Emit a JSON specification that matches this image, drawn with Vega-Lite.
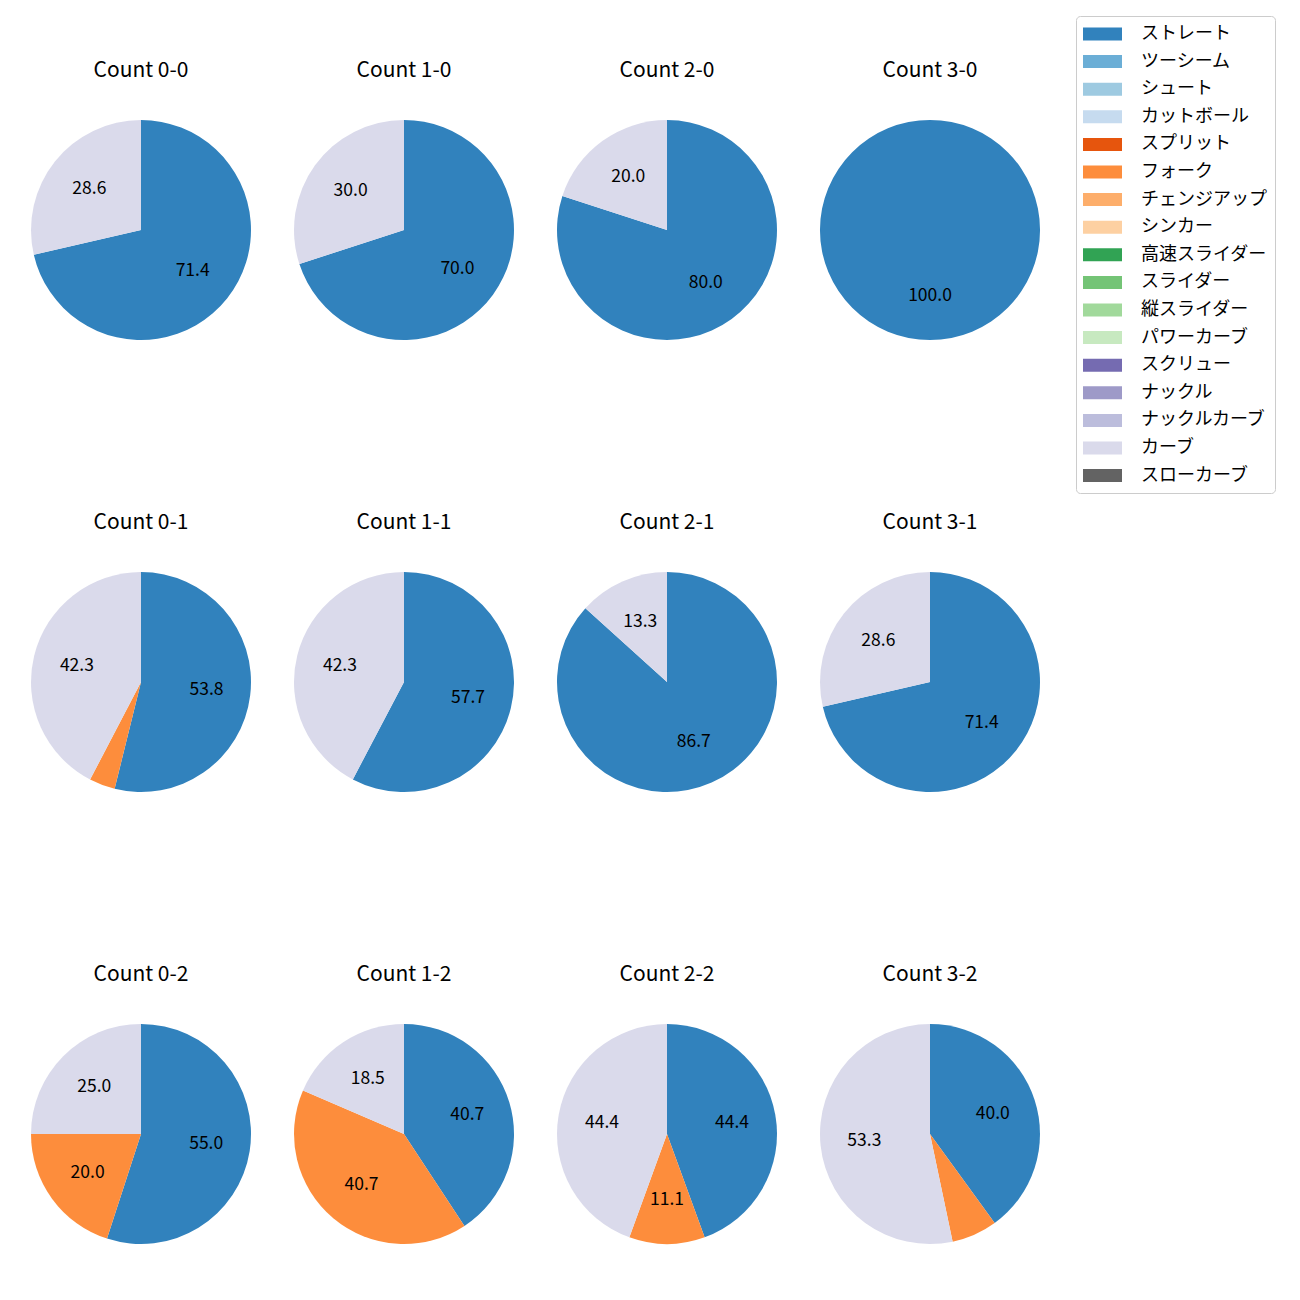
{
  "$schema": "https://vega.github.io/schema/vega-lite/v6.json",
  "padding": {"left": 31, "top": 15, "right": 5, "bottom": 5},
  "background": "white",
  "data": {"values": [
    {"count": "Count 0-0", "pitch": "ストレート", "ord": 1, "pct": 71.4},
    {"count": "Count 0-0", "pitch": "カーブ", "ord": 16, "pct": 28.6},
    {"count": "Count 1-0", "pitch": "ストレート", "ord": 1, "pct": 70.0},
    {"count": "Count 1-0", "pitch": "カーブ", "ord": 16, "pct": 30.0},
    {"count": "Count 2-0", "pitch": "ストレート", "ord": 1, "pct": 80.0},
    {"count": "Count 2-0", "pitch": "カーブ", "ord": 16, "pct": 20.0},
    {"count": "Count 3-0", "pitch": "ストレート", "ord": 1, "pct": 100.0},
    {"count": "Count 0-1", "pitch": "ストレート", "ord": 1, "pct": 53.8},
    {"count": "Count 0-1", "pitch": "フォーク", "ord": 6, "pct": 3.8},
    {"count": "Count 0-1", "pitch": "カーブ", "ord": 16, "pct": 42.3},
    {"count": "Count 1-1", "pitch": "ストレート", "ord": 1, "pct": 57.7},
    {"count": "Count 1-1", "pitch": "カーブ", "ord": 16, "pct": 42.3},
    {"count": "Count 2-1", "pitch": "ストレート", "ord": 1, "pct": 86.7},
    {"count": "Count 2-1", "pitch": "カーブ", "ord": 16, "pct": 13.3},
    {"count": "Count 3-1", "pitch": "ストレート", "ord": 1, "pct": 71.4},
    {"count": "Count 3-1", "pitch": "カーブ", "ord": 16, "pct": 28.6},
    {"count": "Count 0-2", "pitch": "ストレート", "ord": 1, "pct": 55.0},
    {"count": "Count 0-2", "pitch": "フォーク", "ord": 6, "pct": 20.0},
    {"count": "Count 0-2", "pitch": "カーブ", "ord": 16, "pct": 25.0},
    {"count": "Count 1-2", "pitch": "ストレート", "ord": 1, "pct": 40.7},
    {"count": "Count 1-2", "pitch": "フォーク", "ord": 6, "pct": 40.7},
    {"count": "Count 1-2", "pitch": "カーブ", "ord": 16, "pct": 18.5},
    {"count": "Count 2-2", "pitch": "ストレート", "ord": 1, "pct": 44.4},
    {"count": "Count 2-2", "pitch": "フォーク", "ord": 6, "pct": 11.1},
    {"count": "Count 2-2", "pitch": "カーブ", "ord": 16, "pct": 44.4},
    {"count": "Count 3-2", "pitch": "ストレート", "ord": 1, "pct": 40.0},
    {"count": "Count 3-2", "pitch": "フォーク", "ord": 6, "pct": 6.7},
    {"count": "Count 3-2", "pitch": "カーブ", "ord": 16, "pct": 53.3}
  ]},
  "facet": {
    "field": "count", "type": "nominal",
    "sort": ["Count 0-0", "Count 1-0", "Count 2-0", "Count 3-0", "Count 0-1", "Count 1-1", "Count 2-1", "Count 3-1", "Count 0-2", "Count 1-2", "Count 2-2", "Count 3-2"],
    "header": {"title": null, "labelFontSize": 21, "labelFont": "Noto Sans CJK JP", "labelColor": "black", "labelPadding": 39}
  },
  "columns": 4,
  "spacing": {"row": 172, "column": 43},
  "resolve": {"scale": {"theta": "independent"}},
  "spec": {
    "width": 220,
    "height": 220,
    "layer": [
      {
        "mark": {"type": "arc", "radius": 110},
        "encoding": {
          "theta": {"field": "pct", "type": "quantitative", "stack": true},
          "order": {"field": "ord", "type": "quantitative"},
          "color": {
            "field": "pitch", "type": "nominal",
            "scale": {
              "domain": ["ストレート", "ツーシーム", "シュート", "カットボール", "スプリット", "フォーク", "チェンジアップ", "シンカー", "高速スライダー", "スライダー", "縦スライダー", "パワーカーブ", "スクリュー", "ナックル", "ナックルカーブ", "カーブ", "スローカーブ"],
              "range": ["#3182bd", "#6baed6", "#9ecae1", "#c6dbef", "#e6550d", "#fd8d3c", "#fdae6b", "#fdd0a2", "#31a354", "#74c476", "#a1d99b", "#c7e9c0", "#756bb1", "#9e9ac8", "#bcbddc", "#dadaeb", "#636363"]
            },
            "legend": {
              "orient": "none", "legendX": 1045, "legendY": -104,
              "title": null,
              "symbolType": "M-1.95,-0.65H1.95V0.65H-1.95Z",
              "symbolSize": 400,
              "symbolStrokeWidth": 0,
              "symbolOpacity": 1,
              "labelFontSize": 18,
              "labelFont": "Noto Sans CJK JP",
              "labelColor": "black",
              "padding": 8,
              "rowPadding": 8.6,
              "strokeColor": "#cccccc",
              "fillColor": "white",
              "cornerRadius": 4,
              "symbolOffset": 8.5,
              "labelOffset": 28.5
            }
          }
        }
      },
      {
        "mark": {"type": "text", "radius": 66, "fontSize": 17.5, "font": "Noto Sans CJK JP", "color": "black"},
        "encoding": {
          "theta": {"field": "pct", "type": "quantitative", "stack": true},
          "order": {"field": "ord", "type": "quantitative"},
          "text": {"field": "pct", "type": "quantitative", "format": ".1f"},
          "opacity": {"condition": {"test": "datum.pct > 8", "value": 1}, "value": 0}
        }
      }
    ]
  }
}
